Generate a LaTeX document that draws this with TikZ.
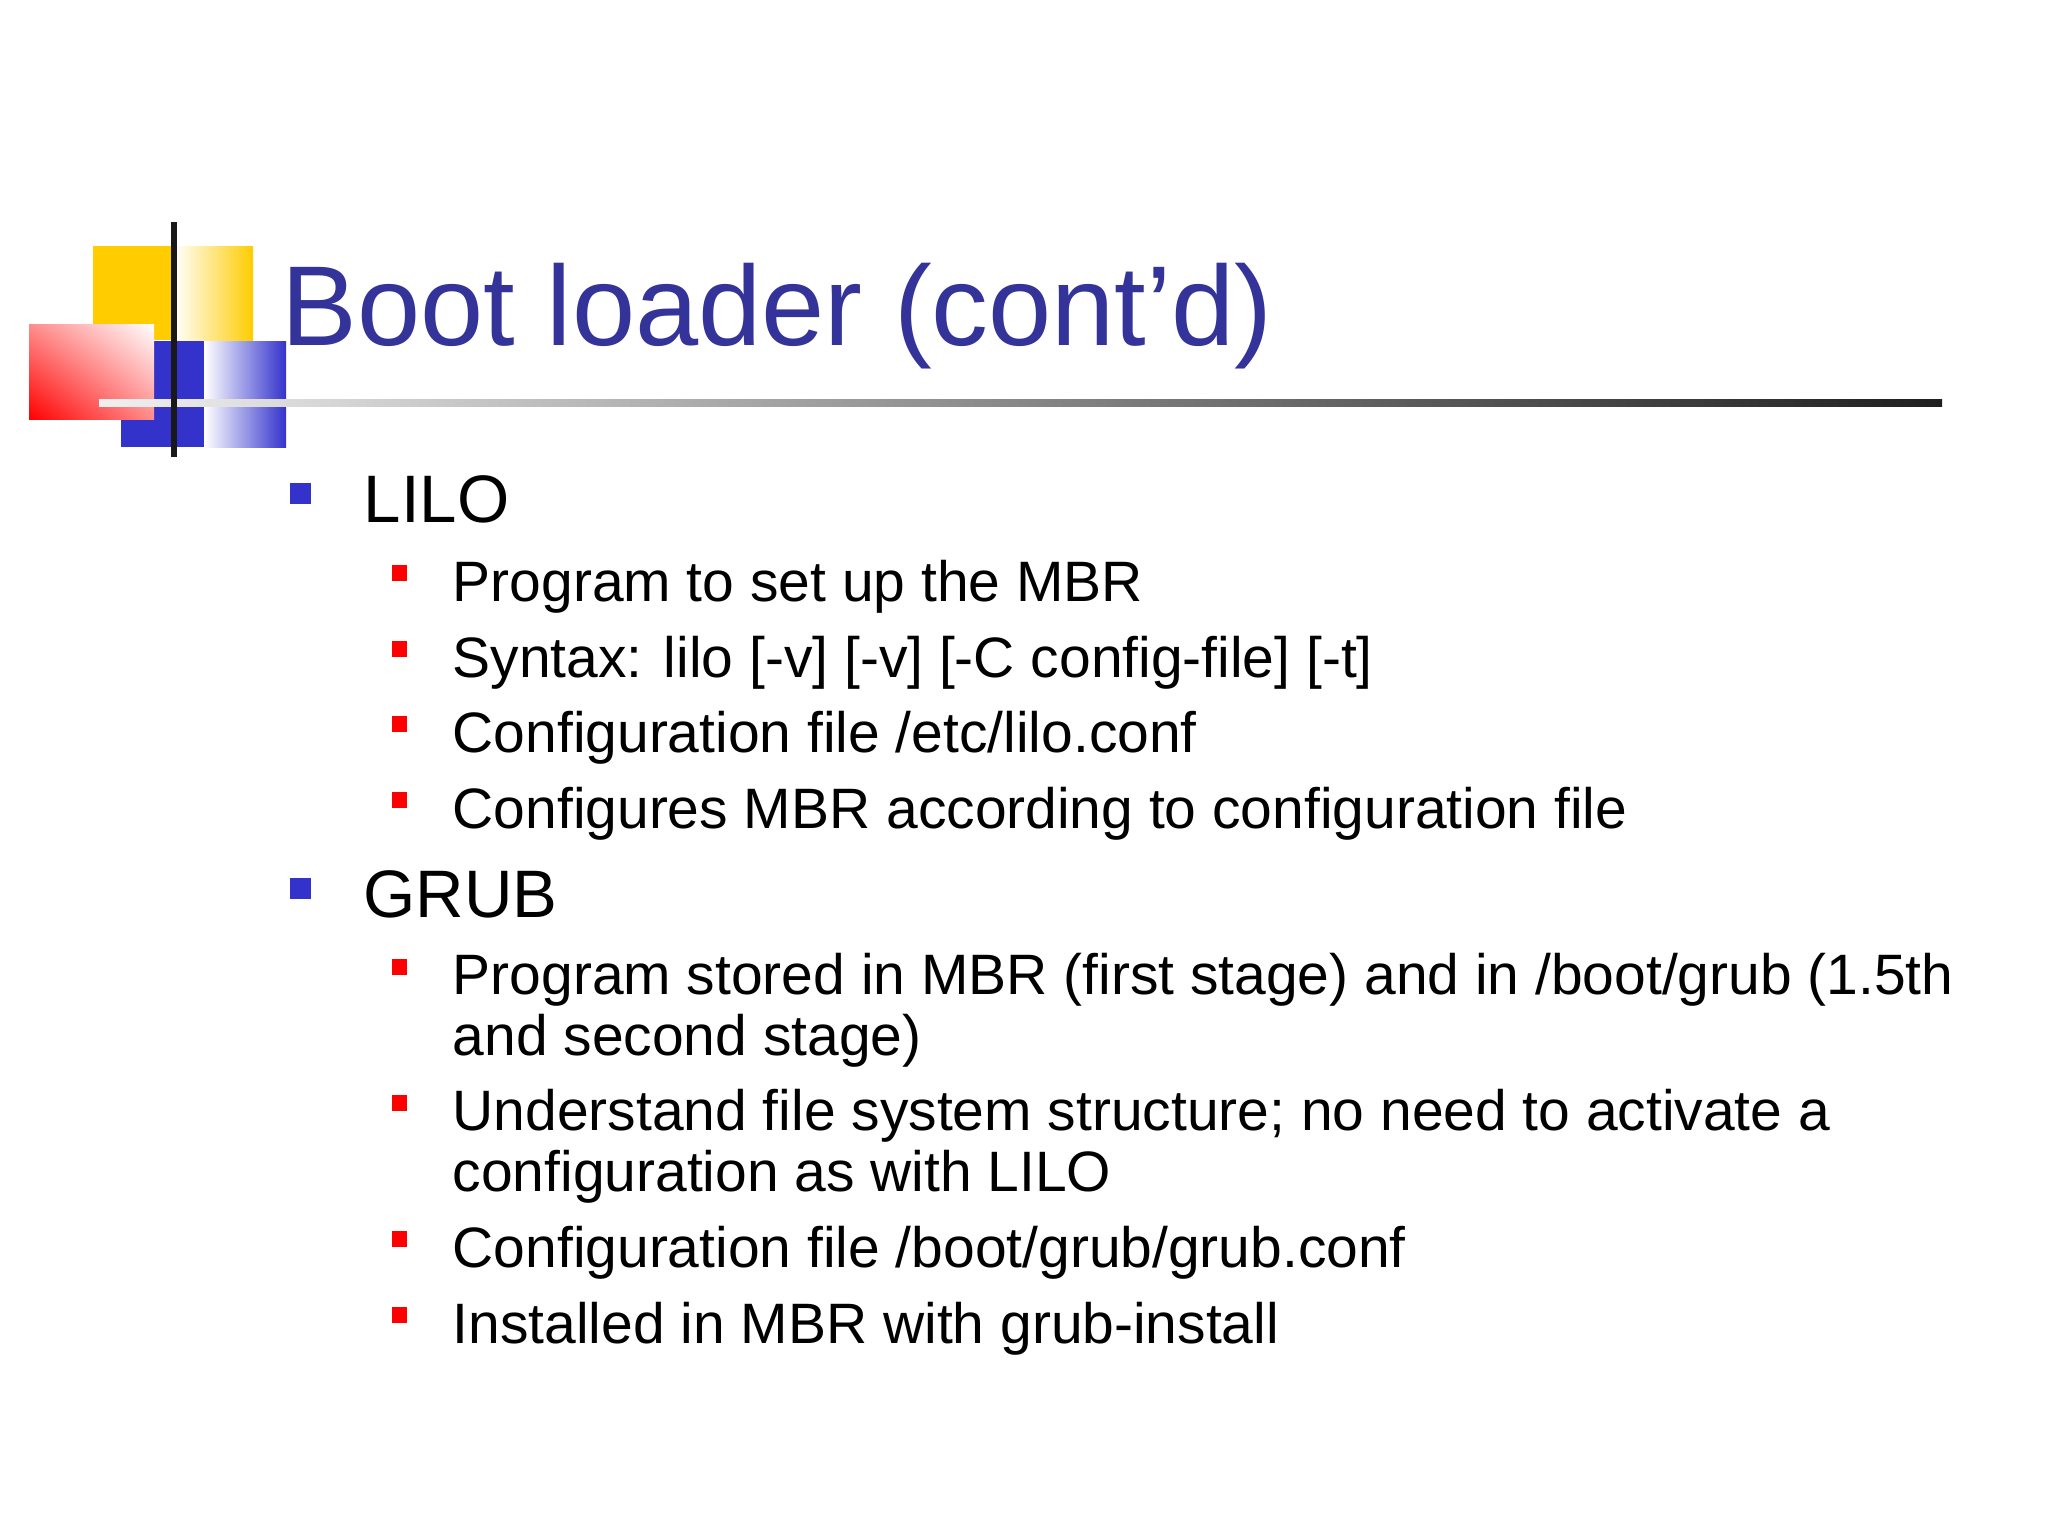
\documentclass[tikz,border=0pt]{standalone}
\usepackage{fontspec}
\usetikzlibrary{shadings}
\setmainfont{Liberation Sans}
\definecolor{ttl}{HTML}{333399}
\definecolor{ylw}{HTML}{FFCC00}
\definecolor{blu}{HTML}{3333CC}
\begin{document}
\begin{tikzpicture}[x=0.01cm,y=-0.01cm,
  lone/.style={anchor=base west,font=\fontsize{19.1}{23}\selectfont,inner sep=0},
  ltwo/.style={anchor=base west,font=\fontsize{16.2}{17.1}\selectfont,inner sep=0,align=left},
  bone/.style={fill=blu},btwo/.style={fill=red}]
\useasboundingbox (0,0) rectangle (2048,1536);
% logo
\fill[ylw] (93,246) rectangle (174,340);
\shade[left color=white,right color=ylw] (174,246) rectangle (253,340);
\fill[blu] (121,341) rectangle (204,447);
\shade[left color=white,right color=blu] (204,341) rectangle (286,447);
\shade[lower left=red,upper right=white,upper left=red!45!white,lower right=red!45!white] (29,324) rectangle (154,419);
\shade[left color=gray!12,right color=black!88] (99,399) rectangle (1942,406);
\fill[black!90] (171,222) rectangle (177,457);
\node[anchor=base west,inner sep=0,text=ttl,font=\fontsize{32.3}{38}\selectfont] (title) at (281,345) {Boot loader (cont’d)};
% level 1
\node[lone] (lilo) at (363,522) {LILO};
\fill[bone] (290,483) rectangle (311,504);
\node[lone] (grub) at (363,917) {GRUB};
\fill[bone] (290,878) rectangle (311,899);
% level 2
\foreach \y/\t [count=\i] in {601/{Program to set up the MBR},677/{Syntax: lilo [-v] [-v] [-C config-file] [-t]},752/{Configuration file /etc/lilo.conf},828/{Configures MBR according to configuration file},1267/{Configuration file /boot/grub/grub.conf},1343/{Installed in MBR with grub-install}}{
  \node[ltwo] (s\i) at (452,\y) {\t};
  \fill[btwo] (392,\y-36) rectangle (407,\y-20);
}
\node[ltwo] (g1) at (452,1055) {Program stored in MBR (first stage) and in /boot/grub (1.5th\\and second stage)};
\fill[btwo] (392,959) rectangle (407,975);
\node[ltwo] (g2) at (452,1191) {Understand file system structure; no need to activate a\\configuration as with LILO};
\fill[btwo] (392,1095) rectangle (407,1111);
\end{tikzpicture}
\end{document}
